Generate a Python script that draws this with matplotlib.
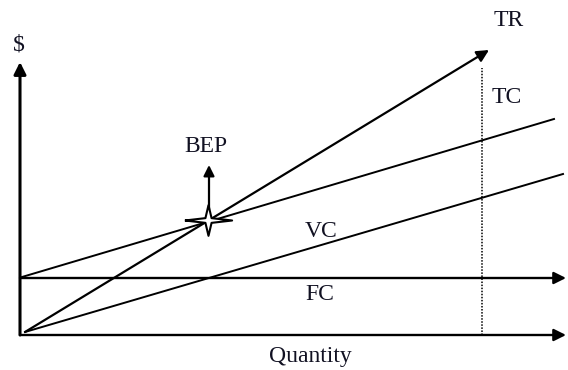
import numpy as np
import matplotlib
matplotlib.use("Agg")
import matplotlib.pyplot as plt
from matplotlib.path import Path

# values (quantity, dollars)
fixed_cost = 57
tc_q = [2, 534]
tc_v = [58, 216]
vc_q = [5, 543]
vc_v = [3, 161]
tr_q = [5, 469]
tr_v = [3, 285]
bep = (188, 115)
q_max = 462          # dotted capacity line
axis_x_end = 546
axis_y_end = 273

labels = {"TR": (489, 309), "TC": (487, 232), "VC": (301, 98),
          "FC": (300, 35), "BEP": (186, 183), "$": (-1, 285),
          "Quantity": (290, -27)}

plt.rcParams["font.family"] = ["Liberation Serif", "DejaVu Serif"]

fig = plt.figure(figsize=(5.68, 3.70), dpi=100)
ax = fig.add_axes([0, 0, 1, 1])
ax.set_xlim(-20, 548)
ax.set_ylim(-35, 335)
ax.axis("off")

arrow = dict(arrowstyle="-|>", color="black", lw=1.7, mutation_scale=18,
             shrinkA=0, shrinkB=0)

# axes
ax.annotate("", xy=(0, axis_y_end), xytext=(0, 0), arrowprops=dict(arrow, lw=2.2))
ax.annotate("", xy=(axis_x_end, 0), xytext=(0, 0), arrowprops=arrow)
# fixed cost
ax.annotate("", xy=(axis_x_end, fixed_cost), xytext=(0, fixed_cost), arrowprops=arrow)

# cost lines
ax.plot(tc_q, tc_v, color="black", lw=1.4)
ax.plot(vc_q, vc_v, color="black", lw=1.4)
# revenue line
ax.annotate("", xy=(tr_q[1], tr_v[1]), xytext=(tr_q[0], tr_v[0]),
            arrowprops=dict(arrow, lw=1.6))

# capacity
ax.plot([q_max, q_max], [0, 267], color="black", lw=1.1, linestyle=(0, (1, 1)))

# BEP arrow and star
ax.annotate("", xy=(bep[0] + 1, bep[1] + 55), xytext=(bep[0] + 1, bep[1] + 10),
            arrowprops=dict(arrow, lw=1.6, mutation_scale=16))
star = Path([(-1, 0), (-0.13, 0.1), (0, 0.65), (0.13, 0.1), (1, 0),
             (0.13, -0.1), (0, -0.65), (-0.13, -0.1), (-1, 0)])
ax.plot([bep[0]], [bep[1]], marker=star, markersize=34, color="white",
        markeredgecolor="black", markeredgewidth=1.5, zorder=5)

for txt, (x, y) in labels.items():
    ax.text(x, y, txt, fontsize=17, color="#111122", ha="center", va="baseline")

fig.savefig("out.png", dpi=100)
